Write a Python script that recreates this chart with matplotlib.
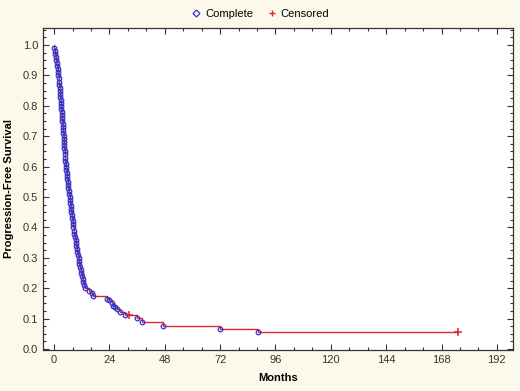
import matplotlib
matplotlib.use("Agg")
import matplotlib.pyplot as plt
from matplotlib.lines import Line2D
from matplotlib.ticker import MultipleLocator, FormatStrFormatter

# Complete (event) times in months and Kaplan-Meier survival
event_months = [
    0.1, 0.3, 0.5, 0.7, 0.9, 1.1, 1.3, 1.5, 1.7, 1.9,
    2.0, 2.1, 2.3, 2.4, 2.5, 2.6, 2.7, 2.8, 3.0, 3.1,
    3.2, 3.3, 3.4, 3.5, 3.6, 3.7, 3.8, 3.9, 4.0, 4.1,
    4.2, 4.3, 4.4, 4.5, 4.6, 4.7, 4.8, 4.9, 5.1, 5.2,
    5.3, 5.5, 5.6, 5.8, 5.9, 6.1, 6.2, 6.4, 6.5, 6.7,
    6.8, 7.0, 7.2, 7.3, 7.5, 7.7, 7.9, 8.0, 8.2, 8.4,
    8.6, 8.8, 9.0, 9.3, 9.5, 9.7, 9.9, 10.1, 10.4, 10.6,
    10.8, 11.0, 11.3, 11.5, 11.8, 12.1, 12.4, 12.7, 13.0, 13.4,
    15.2, 16.3, 17.0, 22.8, 23.8, 25.0, 25.7, 26.5, 27.2, 28.6,
    30.8, 35.8, 38.0, 47.4, 72.0, 88.5,
]
event_surv = [
    0.99, 0.98, 0.97, 0.96, 0.95, 0.94, 0.93, 0.92, 0.91, 0.90,
    0.89, 0.88, 0.87, 0.86, 0.85, 0.84, 0.83, 0.82, 0.81, 0.80,
    0.79, 0.78, 0.77, 0.76, 0.75, 0.74, 0.73, 0.72, 0.71, 0.70,
    0.69, 0.68, 0.67, 0.66, 0.65, 0.64, 0.63, 0.62, 0.61, 0.60,
    0.59, 0.58, 0.57, 0.56, 0.55, 0.54, 0.53, 0.52, 0.51, 0.50,
    0.49, 0.48, 0.47, 0.46, 0.45, 0.44, 0.43, 0.42, 0.41, 0.40,
    0.39, 0.38, 0.37, 0.36, 0.35, 0.34, 0.33, 0.32, 0.31, 0.30,
    0.29, 0.28, 0.27, 0.26, 0.25, 0.24, 0.23, 0.22, 0.21, 0.20,
    0.190, 0.185, 0.176, 0.165, 0.160, 0.153, 0.143, 0.137, 0.131, 0.122,
    0.112, 0.102, 0.090, 0.077, 0.066, 0.055,
]

# Censored observations
censor_months = [32.7, 175.0]
censor_surv = [0.112, 0.055]

x_ticks = [0, 24, 48, 72, 96, 120, 144, 168, 192]
y_ticks = [0.0, 0.1, 0.2, 0.3, 0.4, 0.5, 0.6, 0.7, 0.8, 0.9, 1.0]

BG = "#fdf9ea"
BLUE = "#3434cc"
RED = "#e0282a"

plt.rcParams["font.family"] = ["Liberation Sans", "DejaVu Sans"]

fig = plt.figure(figsize=(5.2, 3.91), dpi=100, facecolor=BG)
ax = fig.add_axes([43 / 520, 41 / 391, 470 / 520, 322 / 391])
ax.set_facecolor("white")

# step line from start through every event to the last censored point
line_x = [0.0] + event_months + [censor_months[-1]]
line_y = [1.0] + event_surv + [event_surv[-1]]
ax.step(line_x, line_y, where="post", color=RED, lw=1.0, zorder=2)

ax.plot(event_months, event_surv, linestyle="none", marker="o", ms=3.3,
        mfc="none", mec=BLUE, mew=0.9, zorder=3)
ax.plot(censor_months, censor_surv, linestyle="none", marker="+", ms=6,
        color=RED, mew=1.1, zorder=4)

ax.set_xlim(-4.8, 199)
ax.set_ylim(-0.003, 1.056)
ax.set_xticks(x_ticks)
ax.set_yticks(y_ticks)
ax.xaxis.set_minor_locator(MultipleLocator(8))
ax.yaxis.set_minor_locator(MultipleLocator(0.025))
ax.yaxis.set_major_formatter(FormatStrFormatter("%.1f"))
ax.tick_params(which="both", direction="in", top=True, right=True,
               labelsize=8, colors="#333333", width=0.8)
ax.tick_params(which="major", length=4)
ax.tick_params(which="minor", length=2)
for s in ax.spines.values():
    s.set_color("#333333")
    s.set_linewidth(0.9)

ax.set_xlabel("Months", fontsize=8, fontweight="bold", labelpad=6)
ax.set_ylabel("Progression-Free Survival", fontsize=8, fontweight="bold", labelpad=6)

handles = [
    Line2D([], [], linestyle="none", marker="D", ms=3.5, mfc="none", mec=BLUE, mew=0.9),
    Line2D([], [], linestyle="none", marker="+", ms=5, color=RED, mew=1.0),
]
fig.legend(handles, ["Complete", "Censored"], loc="center", bbox_to_anchor=(0.5, 1 - 14 / 391),
           ncol=2, frameon=False, fontsize=8, handletextpad=0.3, columnspacing=1.2,
           handlelength=1.0)

fig.savefig("out.png", dpi=100, facecolor=BG)
